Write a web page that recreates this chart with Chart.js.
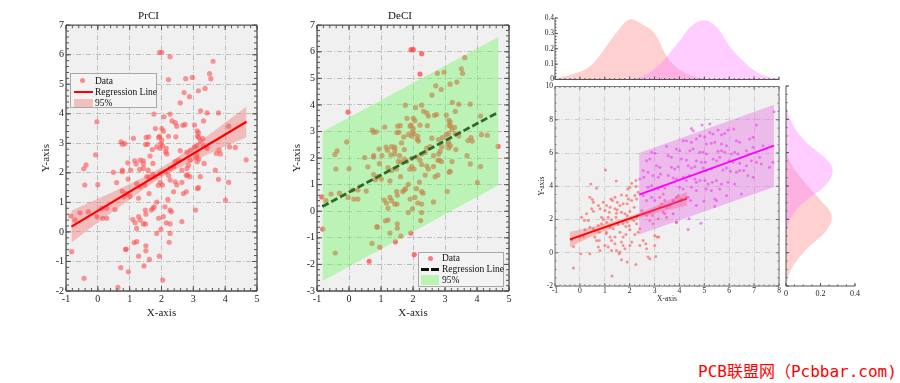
<!DOCTYPE html>
<html>
<head>
<meta charset="utf-8">
<script src="https://cdn.jsdelivr.net/npm/chart.js@4.4.0/dist/chart.umd.min.js"></script>
<style>
  body { margin: 0; width: 900px; height: 383px; background: #fff; position: relative; overflow: hidden; }
  canvas { position: absolute; }
  .leg { position: absolute; box-sizing: border-box; background: rgba(242,242,242,0.96); border: 1px solid #a8a8a8;
         font: 9.5px "Liberation Serif", "Times New Roman", serif; color: #111; }
  .leg span { position: absolute; white-space: nowrap; line-height: 10px; }
  .wm { position: absolute; left: 698px; top: 358px; color: #ff0000; font: 16px "DejaVu Sans Mono", "Noto Sans CJK SC", monospace; white-space: nowrap; }
</style>
</head>
<body>
<canvas id="c1" width="275" height="330" style="left:0;top:0"></canvas>
<canvas id="c2" width="265" height="330" style="left:260px;top:0"></canvas>
<canvas id="c4" width="254" height="80" style="left:530px;top:5px"></canvas>
<canvas id="c3" width="254" height="228" style="left:530px;top:80px"></canvas>
<canvas id="c5" width="100" height="228" style="left:770px;top:80px"></canvas>

<div class="leg" style="left:70px;top:73px;width:87px;height:35px">
  <span style="left:9px;top:4px;width:5px;height:5px;border-radius:50%;background:rgba(255,70,70,0.6)"></span>
  <span style="left:24px;top:2px">Data</span>
  <span style="left:3px;top:17px;width:19px;height:2px;background:#ff0000"></span>
  <span style="left:24px;top:13px">Regression Line</span>
  <span style="left:3px;top:25px;width:19px;height:8px;background:rgba(240,110,110,0.4)"></span>
  <span style="left:24px;top:24px">95%</span>
</div>

<div class="leg" style="left:418px;top:252px;width:86px;height:35px">
  <span style="left:9px;top:3px;width:5px;height:5px;border-radius:50%;background:rgba(255,70,70,0.7)"></span>
  <span style="left:23px;top:0px">Data</span>
  <span style="left:2px;top:15px;width:8px;height:3px;background:#111"></span>
  <span style="left:12px;top:15px;width:8px;height:3px;background:#111"></span>
  <span style="left:23px;top:11px">Regression Line</span>
  <span style="left:2px;top:22px;width:18px;height:10px;background:rgba(115,245,103,0.45)"></span>
  <span style="left:23px;top:22px">95%</span>
</div>

<div class="wm">PCB联盟网（Pcbbar.com)</div>

<script>
// datos de los paneles izquierdo y central (mismos puntos)
const ptsX = [
  1.94,2.01,2.27,3.62,3.51,3.55,2.22,2.76,2.97,3.37,
  3.16,2.71,2.88,2.59,3.23,3.43,3.79,2.27,1.76,2.08,
  -0.03,3.32,2.33,2.43,2.74,2.67,2.48,3.04,2.01,1.81,
  2.06,4.11,3.12,3.16,2.22,1.94,1.91,1.52,1.60,1.12,
  2.45,3.13,3.17,0.73,0.85,0.77,1.56,1.50,2.01,1.98,
  2.03,1.85,1.96,2.15,1.71,3.30,3.22,3.04,3.11,3.32,
  3.43,3.81,4.14,4.32,2.59,2.80,2.92,-0.07,2.13,2.17,
  1.64,3.72,3.85,3.11,3.09,3.17,3.12,4.66,-0.37,-0.44,
  0.94,1.20,1.16,1.33,1.43,1.43,1.73,2.43,2.54,2.85,
  2.90,3.34,2.38,2.27,2.64,2.80,0.49,0.77,0.77,1.03,
  1.31,1.43,1.58,3.69,1.73,1.80,1.96,2.12,2.22,2.78,
  2.82,2.89,1.54,1.62,2.27,2.43,3.22,3.79,1.22,1.33,
  1.48,0.59,0.95,-0.41,0.00,1.96,2.03,1.90,2.48,2.64,
  3.16,3.13,4.11,0.77,0.90,0.82,1.01,1.28,1.61,1.85,
  1.77,2.38,2.69,2.78,2.20,2.11,4.01,-0.56,-0.30,0.12,
  0.28,0.54,1.49,1.73,1.68,2.27,2.31,3.07,-0.85,-0.72,
  -0.03,0.15,0.28,1.28,1.33,1.51,1.91,2.06,1.10,1.17,
  2.64,1.43,1.50,2.15,2.27,1.22,1.98,1.85,2.27,-0.82,
  1.14,1.22,2.24,0.87,0.89,1.51,1.51,1.28,1.62,1.93,
  1.45,0.72,0.96,-0.43,2.04,0.63
];
const ptsY = [
  6.08,6.08,5.93,5.78,5.36,5.19,5.16,5.19,5.23,4.86,
  4.78,4.72,4.58,4.37,4.10,4.03,4.03,3.99,3.99,3.90,
  3.73,3.76,3.76,3.70,3.64,3.61,3.58,3.62,3.50,3.50,
  3.41,3.58,3.42,3.36,3.24,3.24,3.20,3.20,3.22,3.17,
  3.22,3.24,3.20,3.05,2.99,2.97,2.97,2.96,3.11,2.99,
  2.92,2.88,2.83,2.83,2.79,3.16,3.08,2.88,2.92,2.92,
  2.83,2.77,2.88,2.86,2.75,2.70,2.77,2.61,2.71,2.64,
  2.57,2.66,2.64,2.61,2.52,2.47,2.38,2.44,2.27,2.14,
  2.34,2.30,2.41,2.43,2.41,2.30,2.32,2.38,2.43,2.26,
  2.43,2.32,2.21,2.15,2.09,2.15,2.02,2.04,2.09,2.09,
  2.12,2.15,2.09,2.09,1.96,1.87,1.99,2.04,1.92,1.92,
  1.92,1.87,1.87,1.85,1.76,1.70,1.87,1.78,1.64,1.53,
  1.59,1.67,1.79,1.59,1.60,1.68,1.59,1.58,1.59,1.68,
  1.50,1.47,1.68,1.38,1.30,1.19,1.21,1.14,1.30,1.01,
  0.85,1.36,1.30,1.36,1.10,0.85,1.08,0.65,0.68,0.80,
  0.80,0.76,0.74,0.80,0.74,0.74,0.68,0.74,0.54,0.40,
  0.52,0.46,0.46,0.52,0.40,0.60,0.46,0.52,0.42,0.31,
  0.35,0.27,0.27,0.31,0.27,0.12,0.09,-0.05,-0.05,-0.67,
  -0.36,-0.33,-0.35,-0.59,-0.59,-0.47,-0.64,-0.82,-0.93,-0.82,
  -1.15,-1.21,-1.35,-1.57,-1.63,-1.88
];
const lineX = [-0.83, 4.67];
const lineY = [0.18, 3.73];
// banda de confianza (PrCI)
const ciX  = [-0.83, 0, 1, 2, 3, 4, 4.67];
const ciUp = [0.72, 1.12, 1.62, 2.18, 2.91, 3.70, 4.25];
const ciLo = [-0.36, 0.32, 1.10, 1.84, 2.39, 2.90, 3.21];
// banda de predicción (DeCI)
const piX  = [-0.83, 4.67];
const piUp = [2.99, 6.56];
const piLo = [-2.62, 0.98];

// panel derecho: dos grupos
const redX = [
  1.03,0.44,1.46,0.67,2.08,2.25,2.25,1.92,2.01,1.67,
  1.25,1.31,0.40,0.50,0.74,0.81,0.47,0.54,1.01,1.18,
  1.41,1.61,1.74,1.90,2.08,2.21,2.28,2.18,2.01,1.45,
  1.27,1.07,0.74,0.87,0.40,0.54,1.54,1.74,1.90,2.08,
  2.17,0.00,0.14,-0.33,-0.26,0.60,0.67,0.78,1.05,1.21,
  1.41,1.61,1.74,1.85,2.01,2.21,2.34,2.41,1.01,1.14,
  1.27,1.47,1.61,1.81,2.01,2.08,2.41,2.54,2.65,2.68,
  2.74,2.81,3.01,3.10,3.17,3.01,3.05,0.40,0.03,-0.26,
  1.58,1.67,1.90,2.25,1.29,0.74,0.81,1.21,1.34,1.07,
  1.67,1.81,1.90,0.27,0.07,0.18,0.54,2.34,2.48,2.58,
  2.68,2.81,2.94,2.81,2.92,3.21,3.28,3.41,3.48,3.88,
  3.15,3.21,3.35,3.75,3.95,4.02,4.08,4.28,3.61,0.20,
  0.34,0.87,0.94,1.47,1.50,0.78,1.27,1.41,1.67,1.74,
  1.85,1.98,2.28,2.28,1.88,1.94,1.41,1.50,1.07,1.21,
  0.94,1.14
];
const redY = [
  4.98,4.14,4.32,3.88,4.18,4.34,3.98,3.84,3.94,3.48,
  3.24,3.14,3.34,3.20,2.84,2.64,2.64,2.50,2.54,2.44,
  2.64,2.84,2.94,2.94,3.14,3.44,3.24,2.74,2.48,2.14,
  1.98,1.84,1.64,1.74,1.54,1.44,1.70,1.74,1.84,2.04,
  1.94,0.94,0.98,0.78,0.38,0.94,0.74,0.74,1.14,0.94,
  0.94,1.24,0.94,1.10,1.38,1.10,1.24,1.44,0.44,0.34,
  0.14,0.14,0.04,0.24,0.44,0.64,0.44,0.74,0.54,0.24,
  -0.26,-0.36,1.04,0.94,0.94,0.44,-0.22,-0.06,-0.06,-0.92,
  -0.06,-0.42,-0.56,-0.70,-1.40,0.34,0.14,1.54,1.44,1.24,
  2.44,2.34,2.24,2.34,2.14,1.94,3.04,3.64,2.54,2.34,
  2.24,1.94,1.74,2.44,2.24,2.74,2.94,2.34,2.14,1.84,
  2.04,3.34,3.54,3.14,3.44,3.14,3.24,3.34,2.84,1.38,
  1.94,2.14,2.00,2.38,2.58,1.24,0.74,0.54,0.64,0.44,
  1.58,1.62,1.74,2.14,3.44,3.24,3.34,3.04,2.84,2.74,
  3.04,2.14
];
const magX = [
  7.80,4.91,5.22,4.48,4.55,5.55,5.95,6.18,7.09,6.82,
  6.96,4.68,4.82,5.02,5.22,5.35,5.69,5.82,4.28,4.48,
  5.08,5.28,5.42,5.69,5.89,6.29,6.42,3.48,3.88,4.01,
  2.88,3.01,4.42,4.55,4.82,4.95,5.08,5.55,5.69,5.82,
  6.09,6.22,6.35,6.69,3.55,3.68,4.08,4.28,4.68,4.88,
  5.04,5.35,5.49,5.62,5.99,6.15,6.42,6.89,7.09,7.62,
  2.68,2.81,3.08,3.21,3.68,3.81,3.95,4.35,4.48,4.62,
  4.95,5.08,5.28,5.75,5.89,6.05,6.29,6.42,6.58,6.75,
  6.96,2.54,2.74,2.41,2.57,2.94,3.15,3.24,3.55,3.75,
  3.88,4.15,4.28,4.39,4.62,4.68,4.82,5.02,5.15,5.32,
  5.49,5.69,5.95,6.22,6.49,2.74,2.88,3.15,3.28,3.41,
  4.01,4.15,4.48,4.68,5.08,5.28,5.62,5.42,5.49,4.98,
  4.35,4.45,3.88,3.75,5.42,3.48,3.35,3.88,4.39,4.86,
  4.35,2.88,3.01,2.68,2.54,3.41,3.75,4.68,5.89,6.69,
  7.22,7.29,7.76,6.96,7.36,4.15
];
const magY = [
  8.48,7.68,7.74,7.48,7.34,7.38,7.38,7.44,7.68,6.84,
  6.94,6.84,7.04,6.98,7.24,7.14,7.10,7.18,6.74,6.64,
  6.54,6.58,6.64,6.54,6.44,6.74,6.64,6.40,6.24,6.14,
  6.04,5.98,6.14,6.24,6.04,6.04,5.94,6.10,6.14,6.04,
  5.94,6.04,5.94,6.14,5.84,5.74,5.64,5.58,5.54,5.44,
  5.44,5.64,5.54,5.74,5.54,5.44,5.38,5.54,5.44,5.14,
  5.54,5.64,5.24,5.14,5.14,5.04,5.18,5.24,5.10,5.18,
  5.10,4.94,5.04,4.98,5.10,4.90,4.84,4.94,4.94,4.64,
  4.54,4.94,4.84,4.44,4.54,4.64,4.54,4.74,4.64,4.50,
  4.44,4.54,4.34,4.64,4.44,4.24,4.34,4.34,4.14,4.24,
  4.34,4.14,4.24,4.14,3.54,3.94,4.04,3.84,3.98,3.90,
  3.94,3.84,3.94,3.74,3.84,3.74,3.84,3.24,3.14,3.10,
  3.34,3.14,3.34,3.04,2.78,2.74,2.44,1.84,2.04,1.78,
  1.40,3.34,3.14,3.14,3.44,3.14,2.34,2.84,3.44,5.24,
  5.74,5.34,5.44,6.34,6.44,6.74
];
const redLineX = [-0.4, 4.3];
const redLineY = [0.80, 3.25];
const redCiX  = [-0.4, 0.5, 1.5, 2.5, 3.5, 4.3];
const redCiUp = [1.25, 1.55, 1.95, 2.47, 3.11, 3.67];
const redCiLo = [0.35, 0.99, 1.63, 2.15, 2.55, 2.83];
const magLineX = [2.38, 7.8];
const magLineY = [3.50, 6.44];
const magPiX  = [2.38, 7.8];
const magPiUp = [6.0, 8.9];
const magPiLo = [1.1, 3.95];

// densidades marginales
const kdeRedX = [-1,-0.5,0,0.5,1,1.5,2,2.5,3,3.5,4,4.5,5,5.5];
const kdeRedD = [0.007,0.025,0.05,0.10,0.20,0.31,0.39,0.36,0.30,0.15,0.065,0.025,0.006,0];
const kdeMagX = [1.5,2,2.5,3,3.5,4,4.5,5,5.5,6,6.5,7,7.5,8];
const kdeMagD = [0,0.004,0.02,0.07,0.15,0.25,0.35,0.385,0.34,0.22,0.13,0.06,0.02,0.008];
const kdeRedY  = [-2,-1.5,-1,-0.5,0,0.5,1,1.5,2,2.5,3,3.5,4,4.5,5,5.5,6,6.5];
const kdeRedDY = [0.004,0.012,0.03,0.06,0.10,0.15,0.205,0.245,0.265,0.255,0.213,0.17,0.128,0.087,0.05,0.022,0.006,0];
const kdeMagY  = [1,1.5,2,2.5,3,3.5,4,4.5,5,5.5,6,6.5,7,7.5,8,8.5,9,9.5];
const kdeMagDY = [0.003,0.01,0.025,0.055,0.10,0.165,0.225,0.26,0.27,0.245,0.19,0.13,0.085,0.05,0.026,0.009,0.002,0];

const pairs = (xs, ys) => xs.map((x, i) => ({x: x, y: ys[i]}));

Chart.defaults.font.family = '"Liberation Serif", "Times New Roman", serif';
Chart.defaults.color = '#222';
Chart.defaults.animation = false;
Chart.defaults.events = [];
Chart.defaults.plugins.legend.display = false;
Chart.defaults.plugins.tooltip.enabled = false;

// fondo gris, marco y marcas de graduación hacia dentro
const framePlugin = {
  id: 'frame',
  beforeDraw(chart, args, o) {
    if (!o.bg) return;
    const {ctx, chartArea: a} = chart;
    ctx.save();
    ctx.fillStyle = o.bg;
    ctx.fillRect(a.left, a.top, a.right - a.left, a.bottom - a.top);
    ctx.restore();
  },
  afterDraw(chart, args, o) {
    const {ctx, chartArea: a} = chart;
    const sx = chart.scales.x, sy = chart.scales.y;
    const sides = o.sides;
    const seg = (x1, y1, x2, y2) => { ctx.moveTo(x1, y1); ctx.lineTo(x2, y2); };
    const marks = (scale, step, len) => {
      const n = Math.round((scale.max - scale.min) / step);
      for (let i = 0; i <= n; i++) {
        const p = scale.getPixelForValue(scale.min + i * step);
        if (scale === sx) {
          if (sides.includes('bottom')) seg(p, a.bottom, p, a.bottom - len);
          if (sides.includes('top')) seg(p, a.top, p, a.top + len);
        } else {
          if (sides.includes('left')) seg(a.left, p, a.left + len, p);
          if (sides.includes('right')) seg(a.right, p, a.right - len, p);
        }
      }
    };
    ctx.save();
    ctx.strokeStyle = o.color;
    ctx.lineWidth = 1;
    ctx.beginPath();
    marks(sx, o.xMinor, o.minorLen);
    marks(sx, o.xMajor, o.len);
    marks(sy, o.yMinor, o.minorLen);
    marks(sy, o.yMajor, o.len);
    ctx.stroke();
    ctx.lineWidth = o.width;
    ctx.beginPath();
    if (sides.includes('left')) seg(a.left, a.top, a.left, a.bottom);
    if (sides.includes('right')) seg(a.right, a.top, a.right, a.bottom);
    if (sides.includes('top')) seg(a.left, a.top, a.right, a.top);
    if (sides.includes('bottom')) seg(a.left, a.bottom, a.right, a.bottom);
    ctx.stroke();
    ctx.restore();
  }
};

function axis(min, max, step, title, tickSize, titleSize, pad, gridColor, fit, showTicks) {
  return {
    type: 'linear', min: min, max: max,
    ticks: { stepSize: step, display: showTicks !== false, padding: pad, font: { size: tickSize }, color: '#222' },
    grid: gridColor ? { color: gridColor, lineWidth: 1, drawTicks: false } : { display: false, drawTicks: false },
    border: { display: false, dash: [5, 2, 1, 2] },
    title: { display: !!title, text: title || '', font: { size: titleSize }, padding: 0, color: '#222' },
    afterFit: fit
  };
}

const allSides = ['left', 'right', 'top', 'bottom'];

// PrCI
new Chart(document.getElementById('c1'), {
  type: 'scatter',
  data: { datasets: [
    { type: 'line', data: pairs(lineX, lineY), borderColor: '#ff0000', borderWidth: 2.2, pointRadius: 0, order: 1 },
    { data: pairs(ptsX, ptsY), backgroundColor: 'rgba(255,70,70,0.55)', borderWidth: 0, pointRadius: 2.6, order: 2 },
    { type: 'line', data: pairs(ciX, ciUp), fill: '+1', backgroundColor: 'rgba(240,110,110,0.4)', borderWidth: 0, pointRadius: 0, tension: 0.3, order: 3 },
    { type: 'line', data: pairs(ciX, ciLo), fill: false, borderWidth: 0, pointRadius: 0, tension: 0.3, order: 3 }
  ]},
  options: {
    responsive: false,
    devicePixelRatio: 1,
    layout: { padding: { left: 40, right: 18, top: 10, bottom: 10 } },
    plugins: {
      title: { display: true, text: 'PrCI', font: { size: 11, weight: 'normal' }, padding: { top: 0, bottom: 2 }, color: '#111' },
      frame: { bg: '#f0f0f0', color: '#555', width: 1.3, sides: allSides, xMajor: 1, xMinor: 0.2, yMajor: 1, yMinor: 0.2, len: 5, minorLen: 3 }
    },
    scales: {
      x: axis(-1, 5, 1, 'X-axis', 10, 11, 2, '#bdbdbd', s => { s.height = 29; }),
      y: axis(-2, 7, 1, 'Y-axis', 10, 11, 2, '#bdbdbd', s => { s.width = 26; })
    }
  },
  plugins: [framePlugin]
});

// DeCI: la banda verde queda por encima de puntos y recta
new Chart(document.getElementById('c2'), {
  type: 'scatter',
  data: { datasets: [
    { type: 'line', data: pairs(lineX, lineY), borderColor: '#000', borderWidth: 2.8, borderDash: [7, 3], pointRadius: 0, order: 1 },
    { data: pairs(ptsX, ptsY), backgroundColor: 'rgba(255,60,60,0.7)', borderWidth: 0, pointRadius: 2.6, order: 2 },
    { type: 'line', data: pairs(piX, piUp), fill: '+1', backgroundColor: 'rgba(115,245,103,0.42)', borderWidth: 0, pointRadius: 0, order: 0 },
    { type: 'line', data: pairs(piX, piLo), fill: false, borderWidth: 0, pointRadius: 0, order: 0 }
  ]},
  options: {
    responsive: false,
    devicePixelRatio: 1,
    layout: { padding: { left: 31, right: 16, top: 10, bottom: 10 } },
    plugins: {
      title: { display: true, text: 'DeCI', font: { size: 11, weight: 'normal' }, padding: { top: 0, bottom: 2 }, color: '#111' },
      frame: { bg: '#f0f0f0', color: '#555', width: 1.3, sides: allSides, xMajor: 1, xMinor: 0.2, yMajor: 1, yMinor: 0.2, len: 5, minorLen: 3 }
    },
    scales: {
      x: axis(-1, 5, 1, 'X-axis', 10, 11, 2, '#bdbdbd', s => { s.height = 29; }),
      y: axis(-3, 7, 1, 'Y-axis', 10, 11, 2, '#bdbdbd', s => { s.width = 26; })
    }
  },
  plugins: [framePlugin]
});

// dispersión conjunta
new Chart(document.getElementById('c3'), {
  type: 'scatter',
  data: { datasets: [
    { type: 'line', data: pairs(magLineX, magLineY), borderColor: '#ff00ff', borderWidth: 1.8, pointRadius: 0, order: 1 },
    { data: pairs(magX, magY), backgroundColor: 'rgba(240,60,240,0.6)', borderWidth: 0, pointRadius: 1.5, order: 2 },
    { type: 'line', data: pairs(magPiX, magPiUp), fill: '+1', backgroundColor: 'rgba(230,90,230,0.35)', borderWidth: 0, pointRadius: 0, order: 3 },
    { type: 'line', data: pairs(magPiX, magPiLo), fill: false, borderWidth: 0, pointRadius: 0, order: 3 },
    { type: 'line', data: pairs(redLineX, redLineY), borderColor: '#ff0000', borderWidth: 1.8, pointRadius: 0, order: 4 },
    { data: pairs(redX, redY), backgroundColor: 'rgba(255,80,80,0.6)', borderWidth: 0, pointRadius: 1.5, order: 5 },
    { type: 'line', data: pairs(redCiX, redCiUp), fill: '+1', backgroundColor: 'rgba(240,110,110,0.4)', borderWidth: 0, pointRadius: 0, tension: 0.3, order: 6 },
    { type: 'line', data: pairs(redCiX, redCiLo), fill: false, borderWidth: 0, pointRadius: 0, tension: 0.3, order: 6 }
  ]},
  options: {
    responsive: false,
    devicePixelRatio: 1,
    layout: { padding: { left: 8, right: 5, top: 6, bottom: 4 } },
    plugins: {
      frame: { bg: '#f0f0f0', color: '#777', width: 1, sides: allSides, xMajor: 1, xMinor: 0.2, yMajor: 2, yMinor: 0.5, len: 3, minorLen: 1.5 }
    },
    scales: {
      x: axis(-1, 8, 1, 'X-axis', 7.5, 7.5, 1, '#cfcfcf', s => { s.height = 18; }),
      y: axis(-2, 10, 2, 'Y-axis', 7.5, 7.5, 2, '#cfcfcf', s => { s.width = 17; })
    }
  },
  plugins: [framePlugin]
});

// densidad marginal superior
new Chart(document.getElementById('c4'), {
  type: 'line',
  data: { datasets: [
    { data: pairs(kdeMagX, kdeMagD), fill: 'origin', backgroundColor: 'rgba(255,130,255,0.4)', borderWidth: 0, pointRadius: 0, tension: 0.4 },
    { data: pairs(kdeRedX, kdeRedD), fill: 'origin', backgroundColor: 'rgba(255,150,150,0.45)', borderWidth: 0, pointRadius: 0, tension: 0.4 }
  ]},
  options: {
    responsive: false,
    devicePixelRatio: 1,
    layout: { padding: { left: 0, right: 5, top: 13, bottom: 5 } },
    plugins: {
      frame: { color: '#555', width: 1, sides: ['left', 'bottom'], xMajor: 1, xMinor: 0.2, yMajor: 0.1, yMinor: 0.02, len: 3, minorLen: 1.5 }
    },
    scales: {
      x: axis(-1, 8, 1, '', 7.5, 7.5, 1, null, s => { s.height = 0; }, false),
      y: axis(0, 0.4, 0.1, '', 7.5, 7.5, 1, null, s => { s.width = 25; })
    }
  },
  plugins: [framePlugin]
});

// densidad marginal derecha
new Chart(document.getElementById('c5'), {
  type: 'line',
  data: { datasets: [
    { data: pairs(kdeMagDY, kdeMagY), fill: 'origin', backgroundColor: 'rgba(255,130,255,0.4)', borderWidth: 0, pointRadius: 0, tension: 0.4 },
    { data: pairs(kdeRedDY, kdeRedY), fill: 'origin', backgroundColor: 'rgba(255,150,150,0.45)', borderWidth: 0, pointRadius: 0, tension: 0.4 }
  ]},
  options: {
    responsive: false,
    devicePixelRatio: 1,
    indexAxis: 'y',
    layout: { padding: { left: 16, right: 15, top: 6, bottom: 10 } },
    plugins: {
      frame: { color: '#555', width: 1, sides: ['left', 'bottom'], xMajor: 0.2, xMinor: 0.05, yMajor: 2, yMinor: 0.5, len: 3, minorLen: 1.5 }
    },
    scales: {
      x: axis(0, 0.4, 0.2, '', 8, 8, 3, null, s => { s.height = 12; }),
      y: axis(-2, 10, 2, '', 8, 8, 1, null, s => { s.width = 0; }, false)
    }
  },
  plugins: [framePlugin]
});
</script>
</body>
</html>
